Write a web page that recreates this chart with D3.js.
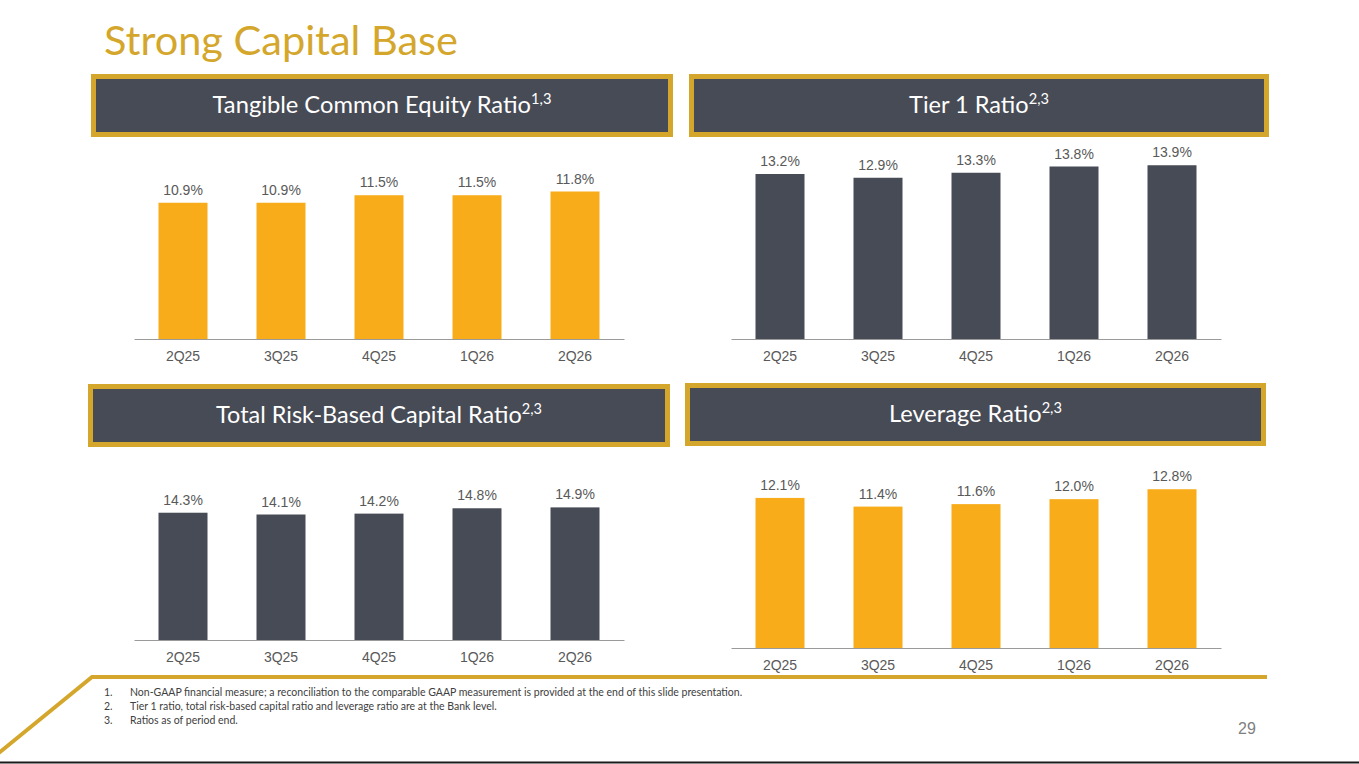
<!DOCTYPE html>
<html>
<head>
<meta charset="utf-8">
<script src="https://cdn.jsdelivr.net/npm/d3@7"></script>
<style>
  body { margin: 0; background: #fff; }
  svg { display: block; }
</style>
</head>
<body>
<div id="chart"></div>
<script>
// chart data
var quarters = ["2Q25", "3Q25", "4Q25", "1Q26", "2Q26"];
var tceRatio = [10.9, 10.9, 11.5, 11.5, 11.8];
var tier1Ratio = [13.2, 12.9, 13.3, 13.8, 13.9];
var totalRbcRatio = [14.3, 14.1, 14.2, 14.8, 14.9];
var leverageRatio = [12.1, 11.4, 11.6, 12.0, 12.8];

var panelTitles = ["Tangible Common Equity Ratio", "Tier 1 Ratio", "Total Risk-Based Capital Ratio", "Leverage Ratio"];
var panelNotes = ["1,3", "2,3", "2,3", "2,3"];
var footnotes = [
    "Non-GAAP financial measure; a reconciliation to the comparable GAAP measurement is provided at the end of this slide presentation.",
    "Tier 1 ratio, total risk-based capital ratio and leverage ratio are at the Bank level.",
    "Ratios as of period end."
];

var W = 1359, H = 764;
var gold = "#D4A72C", slate = "#474B55", orange = "#F8AC19";
var calibri = "Lato, 'Open Sans', sans-serif";
var arial = "'Liberation Sans', Arial, sans-serif";

var svg = d3.select("#chart").append("svg")
    .attr("width", W)
    .attr("height", H);

svg.append("rect").attr("width", W).attr("height", H).attr("fill", "#fff");

// scale a text's font size so it spans the given width
function fitWidth(sel, target) {
    var fs = parseFloat(sel.attr("font-size"));
    var w = sel.node().getBBox().width;
    if (w > 0) sel.attr("font-size", (fs * target / w).toFixed(2));
    return sel;
}

// page title
fitWidth(svg.append("text")
    .attr("x", 104)
    .attr("y", 55)
    .attr("font-family", calibri)
    .attr("font-size", 40)
    .attr("fill", gold)
    .text("Strong Capital Base"), 354);

// layout of the four panels (header box, plot band, baseline)
var panels = [
    {values: tceRatio, color: orange, box: [91, 74, 582, 63], x0: 134, base: 339, plotH: 185, yMax: 14.8, titleW: 339},
    {values: tier1Ratio, color: slate, box: [689, 74, 580, 63], x0: 731, base: 339, plotH: 185, yMax: 14.8, titleW: 140},
    {values: totalRbcRatio, color: slate, box: [88, 384, 582, 63], x0: 134, base: 640, plotH: 140, yMax: 15.73, titleW: 326},
    {values: leverageRatio, color: orange, box: [685, 383, 581, 63], x0: 731, base: 648, plotH: 160, yMax: 12.9, titleW: 173}
];

panels.forEach(function (p, i) {
    var g = svg.append("g");

    // header box
    g.append("rect")
        .attr("x", p.box[0] + 2.5)
        .attr("y", p.box[1] + 2.5)
        .attr("width", p.box[2] - 5)
        .attr("height", p.box[3] - 5)
        .attr("fill", slate)
        .attr("stroke", gold)
        .attr("stroke-width", 5);

    var title = g.append("text")
        .attr("x", p.box[0] + p.box[2] / 2)
        .attr("y", p.box[1] + 39)
        .attr("text-anchor", "middle")
        .attr("font-family", calibri)
        .attr("font-size", 22)
        .attr("fill", "#fff");
    title.append("tspan").text(panelTitles[i]);
    title.append("tspan")
        .attr("font-size", "62%")
        .attr("dy", -9)
        .text(panelNotes[i]);
    fitWidth(title, p.titleW);

    // scales
    var x = d3.scaleBand()
        .domain(quarters)
        .range([p.x0, p.x0 + 490])
        .paddingInner(0.5)
        .paddingOuter(0.25);

    var y = d3.scaleLinear()
        .domain([0, p.yMax])
        .range([p.base, p.base - p.plotH]);

    var data = quarters.map(function (q, k) {
        return {q: q, v: p.values[k]};
    });

    g.selectAll("rect.bar")
        .data(data)
        .enter().append("rect")
        .attr("class", "bar")
        .attr("x", function (d) { return x(d.q); })
        .attr("width", x.bandwidth())
        .attr("y", function (d) { return y(d.v); })
        .attr("height", function (d) { return p.base - y(d.v); })
        .attr("fill", p.color);

    g.selectAll("text.val")
        .data(data)
        .enter().append("text")
        .attr("class", "val")
        .attr("x", function (d) { return x(d.q) + x.bandwidth() / 2; })
        .attr("y", function (d) { return y(d.v) - 8; })
        .attr("text-anchor", "middle")
        .attr("font-family", arial)
        .attr("font-size", 14)
        .attr("fill", "#595959")
        .text(function (d) { return d.v.toFixed(1) + "%"; });

    // x axis
    var axis = g.append("g")
        .attr("transform", "translate(0," + p.base + ")")
        .call(d3.axisBottom(x).tickSize(0).tickSizeOuter(0).tickPadding(12));
    axis.select(".domain").attr("stroke", "#9a9a9a").attr("stroke-width", 1.2);
    axis.selectAll("text")
        .attr("font-family", arial)
        .attr("font-size", 14)
        .attr("fill", "#595959");
});

// footer decoration
svg.append("path")
    .attr("d", "M-4,755.3 L92,677 L1267,677")
    .attr("fill", "none")
    .attr("stroke", gold)
    .attr("stroke-width", 4);

svg.append("line")
    .attr("x1", 0).attr("x2", W)
    .attr("y1", 762.5).attr("y2", 762.5)
    .attr("stroke", "#1a1a1a")
    .attr("stroke-width", 2);

// footnotes
var fn = svg.append("g")
    .attr("font-family", calibri)
    .attr("fill", "#404040");

var firstNote = null;
footnotes.forEach(function (t, i) {
    var yy = 696 + i * 14;
    fn.append("text")
        .attr("x", 104).attr("y", yy)
        .attr("font-size", 9)
        .text((i + 1) + ".");
    var tx = fn.append("text")
        .attr("class", "note")
        .attr("x", 130).attr("y", yy)
        .attr("font-size", 9)
        .text(t);
    if (i == 0) firstNote = tx;
});
fitWidth(firstNote, 612);
fn.selectAll("text").attr("font-size", firstNote.attr("font-size"));

// page number
svg.append("text")
    .attr("x", 1247)
    .attr("y", 734)
    .attr("text-anchor", "middle")
    .attr("font-family", arial)
    .attr("font-size", 16)
    .attr("fill", "#7f7f7f")
    .text("29");
</script>
</body>
</html>
